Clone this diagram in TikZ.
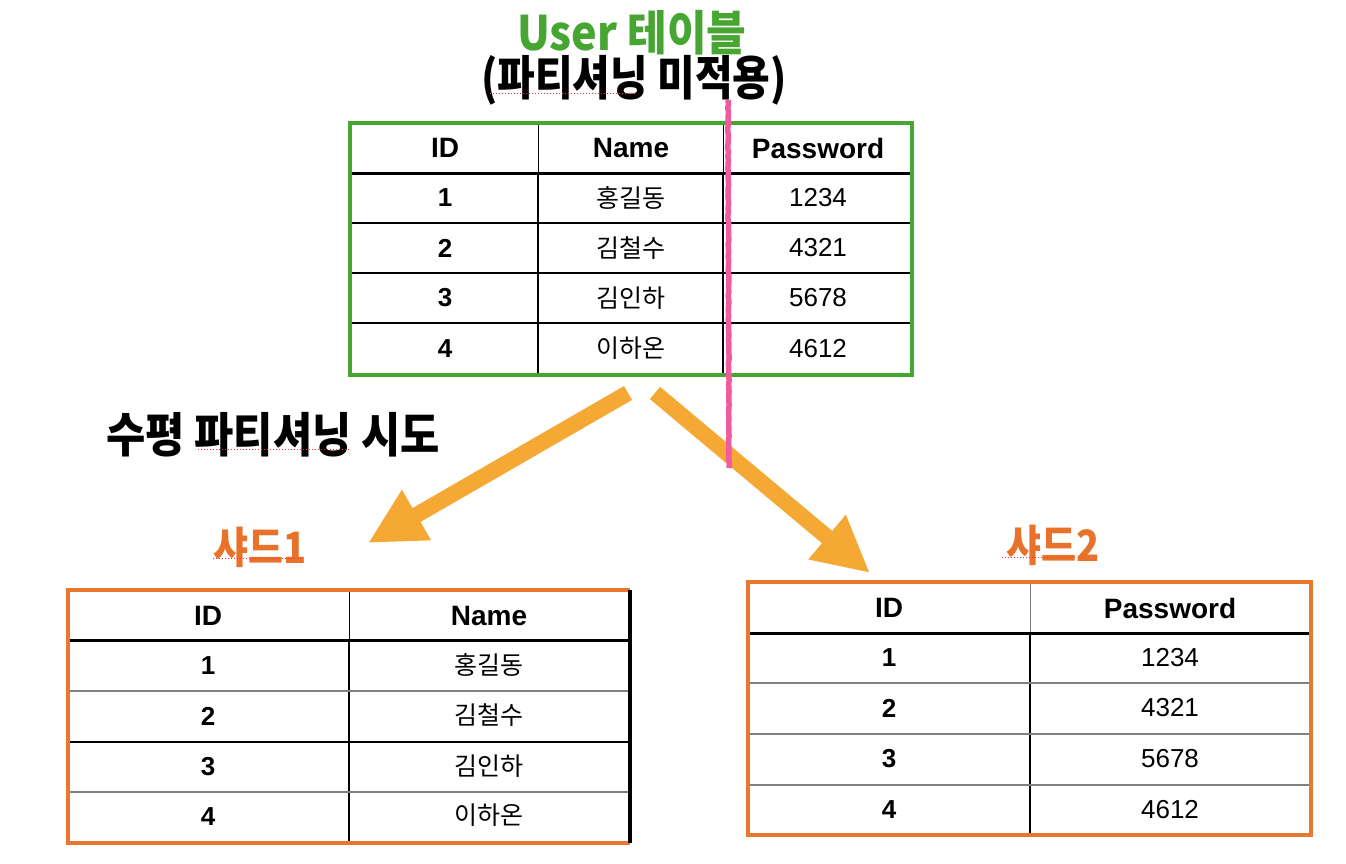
\documentclass[tikz,border=0pt]{standalone}
\usepackage{fontspec}
\setmainfont{Liberation Sans}
\newfontfamily\kr{Noto Sans CJK KR}
\usetikzlibrary{arrows.meta,decorations.pathmorphing}
\definecolor{tgreen}{HTML}{47A632}
\definecolor{tborder}{HTML}{E87830}
\definecolor{ttext}{HTML}{E8722A}
\definecolor{tarrow}{HTML}{F5A833}
\definecolor{tpink}{HTML}{EF5B9C}
\definecolor{tgrey}{HTML}{808080}
\tikzset{
  hd/.style={font=\fontsize{28}{28}\selectfont\bfseries, inner sep=0pt},
  num/.style={font=\fontsize{26}{26}\selectfont, inner sep=0pt},
  idc/.style={font=\fontsize{26}{26}\selectfont\bfseries, inner sep=0pt},
  nm/.style={font=\kr\fontsize{25}{25}\selectfont, inner sep=0pt},
  ttl/.style={font=\kr\bfseries\fontsize{44}{44}\selectfont, inner sep=0pt},
  shardttl/.style={font=\kr\bfseries\fontsize{40}{40}\selectfont, inner sep=0pt, text=ttext},
  thick line/.style={line width=3pt, black},
  rowline/.style={line width=1.5pt, black},
  greyline/.style={line width=1.5pt, tgrey},
  bigarrow/.style={line width=16pt, tarrow, -{Triangle[length=56pt,width=54pt]}},
  spell/.style={red!80, line width=1pt, dotted},
}
\begin{document}
\begin{tikzpicture}[x=1pt,y=-1pt]
\useasboundingbox[fill=white] (0,0) rectangle (1346,864);

% ---------- titles ----------
\node[ttl, text=tgreen] (t1) at (632,33) {\scalebox{0.98}[1.08]{User 테이블}};
\node[ttl] (t2) at (634,80) {\scalebox{0.93}[1.08]{(파티셔닝 미적용)}};
\draw[spell] (490,94) -- (637,94);
\node[ttl] (t3) at (273,435) {\scalebox{0.97}[1.08]{수평 파티셔닝 시도}};
\draw[spell] (198,449) -- (351,449);
\node[shardttl] (s1) at (260,547) {\scalebox{0.95}[1.08]{샤드1}};
\draw[spell] (213,558) -- (301,558);
\node[shardttl] (s2) at (1053,545) {\scalebox{0.95}[1.08]{샤드2}};
\draw[spell] (1002,557) -- (1077,557);

% ---------- top table ----------
\draw[line width=1pt] (538,123) -- (538,173);
\draw[line width=1pt] (723,123) -- (723,173);
\draw[line width=2pt] (538,173) -- (538,375);
\draw[line width=1.5pt] (723,173) -- (723,375);
\draw[thick line] (350,173) -- (912,173);
\foreach \y in {223,273,323} \draw[rowline] (350,\y) -- (912,\y);
\draw[line width=3.5pt, tgreen] (350,123) rectangle (912,375);

\node[hd] (uh1) at (445,148) {ID};
\node[hd] (uh2) at (631,148) {Name};
\node[hd] (uh3) at (818,148) {Password};
\node[idc] (u11) at (445,198) {1}; \node[nm] (u12) at (631,198) {홍길동}; \node[num] (u13) at (818,198) {1234};
\node[idc] (u21) at (445,248) {2}; \node[nm] (u22) at (631,248) {김철수}; \node[num] (u23) at (818,248) {4321};
\node[idc] (u31) at (445,298) {3}; \node[nm] (u32) at (631,298) {김인하}; \node[num] (u33) at (818,298) {5678};
\node[idc] (u41) at (445,349) {4}; \node[nm] (u42) at (631,348) {이하온}; \node[num] (u43) at (818,349) {4612};

% ---------- shard 1 table ----------
\draw[line width=1pt] (349,590) -- (349,640);
\draw[line width=2pt] (349,640) -- (349,843);
\draw[thick line] (68,640) -- (630,640);
\foreach \y in {691,792} \draw[greyline] (68,\y) -- (630,\y);
\draw[rowline] (68,742) -- (630,742);
\draw[line width=3.5pt, tborder] (630,590) -- (68,590) -- (68,843) -- (630,843);
\draw[line width=4pt, black] (630,590) -- (630,843);

\node[hd] (ah1) at (208,616) {ID};
\node[hd] (ah2) at (489,616) {Name};
\node[idc] (a11) at (208,666) {1}; \node[nm] (a12) at (489,665) {홍길동};
\node[idc] (a21) at (208,716) {2}; \node[nm] (a22) at (489,715) {김철수};
\node[idc] (a31) at (208,767) {3}; \node[nm] (a32) at (489,766) {김인하};
\node[idc] (a41) at (208,817) {4}; \node[nm] (a42) at (489,815) {이하온};

% ---------- shard 2 table ----------
\draw[line width=1pt, tgrey] (1030,582) -- (1030,633);
\draw[line width=2pt] (1030,633) -- (1030,835);
\draw[thick line] (748,633) -- (1311,633);
\foreach \y in {683,734,785} \draw[greyline] (748,\y) -- (1311,\y);
\draw[line width=3.5pt, tborder] (748,582) rectangle (1311,835);

\node[hd] (bh1) at (889,608) {ID};
\node[hd] (bh2) at (1170,608) {Password};
\node[idc] (b11) at (889,658) {1}; \node[num] (b12) at (1170,658) {1234};
\node[idc] (b21) at (889,708) {2}; \node[num] (b22) at (1170,708) {4321};
\node[idc] (b31) at (889,759) {3}; \node[num] (b32) at (1170,759) {5678};
\node[idc] (b41) at (889,810) {4}; \node[num] (b42) at (1170,810) {4612};

% ---------- arrows ----------
\coordinate (l0) at (628,393);
\coordinate (l1) at (368,543);
\coordinate (r0) at (655,393);
\coordinate (r1) at (870,573);
\draw[bigarrow] (l0) -- (l1);
\draw[bigarrow] (r0) -- (r1);

% ---------- pink cut line ----------
\coordinate (p0) at (728,100);
\coordinate (p1) at (729,468);
\draw[tpink, line width=5.5pt, decorate, decoration={random steps,segment length=4pt,amplitude=0.5pt}] (p0) -- (p1);
\end{tikzpicture}
\end{document}
